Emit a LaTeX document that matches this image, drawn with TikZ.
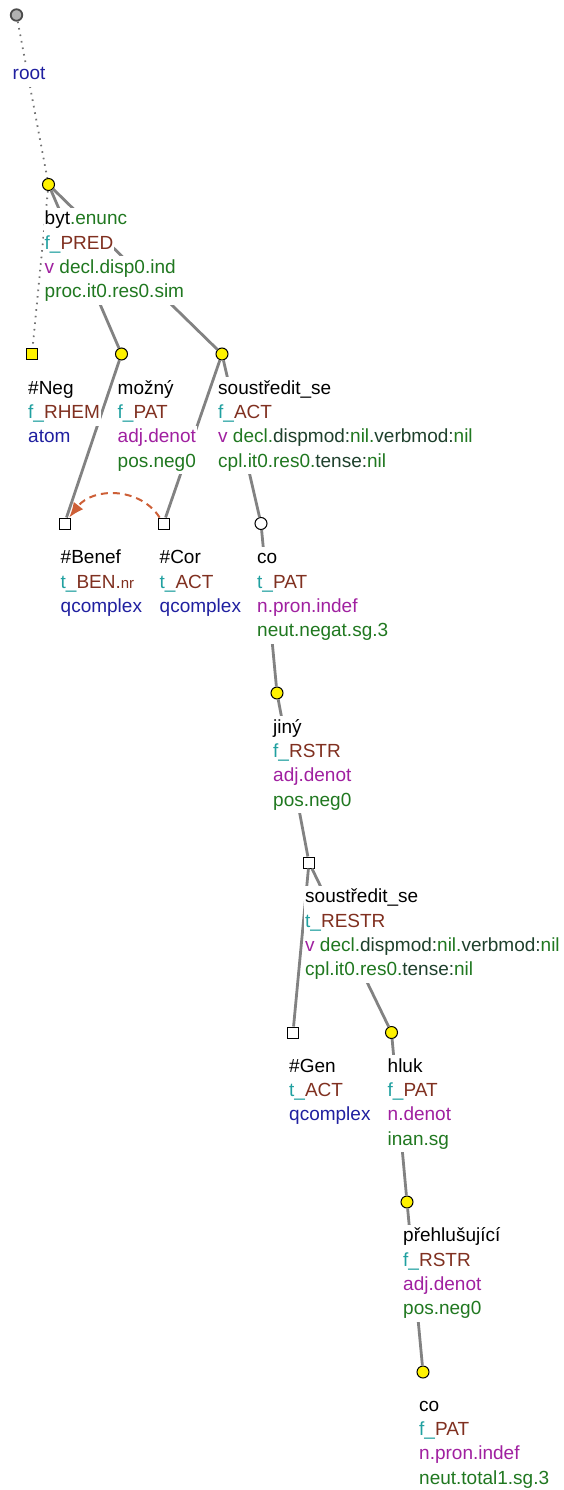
\documentclass[tikz,border=0pt]{standalone}
\usepackage{fontspec}
\setmainfont{Liberation Sans}
\usepackage{xcolor}
\usepackage{tikz}
\usetikzlibrary{arrows.meta}

\definecolor{tteal}{RGB}{32,160,160}
\definecolor{tbrown}{RGB}{128,48,32}
\definecolor{tblue}{RGB}{32,32,160}
\definecolor{tpurple}{RGB}{160,32,160}
\definecolor{tgreen}{RGB}{32,120,32}
\definecolor{tdark}{RGB}{30,64,44}
\definecolor{edgegray}{RGB}{130,130,130}
\definecolor{corefred}{RGB}{205,95,55}

% one line of a node label, on white
\newcommand{\wline}[1]{{\fboxsep=0pt\colorbox{white}{\strut\hspace{1pt}#1\hspace{1pt}}}}
\newcommand{\functor}[2]{\textcolor{tteal}{#1\_}\textcolor{tbrown}{#2}}
\newcommand{\tgr}[1]{\textcolor{tgreen}{#1}}
\newcommand{\tpu}[1]{\textcolor{tpurple}{#1}}
\newcommand{\tbl}[1]{\textcolor{tblue}{#1}}
\newcommand{\tdk}[1]{\textcolor{tdark}{#1}}

\begin{document}
\begin{tikzpicture}[x=1pt,y=-1pt,
  mark base/.style={draw=black,line width=1pt,inner sep=0pt,minimum size=12pt},
  yel/.style={mark base,circle,fill=yellow},
  yelsq/.style={mark base,rectangle,fill=yellow,minimum size=11pt},
  wcirc/.style={mark base,circle,fill=white},
  wsq/.style={mark base,rectangle,fill=white,minimum size=11pt},
  rt/.style={circle,draw=black!70,line width=1.8pt,fill=black!30,inner sep=0pt,minimum size=11.5pt},
  lab/.style={anchor=north west,inner sep=0pt,align=left,
              font=\fontsize{19}{24.3}\selectfont},
  edge/.style={edgegray,line width=2.8pt},
  dotedge/.style={black!55,line width=1.8pt,dash pattern=on 1.6pt off 5pt},
  coref/.style={corefred,line width=2pt,dash pattern=on 7pt off 5pt,
                -{Latex[length=15pt,width=12pt]}}]
  \useasboundingbox (0,0) rectangle (563,1490);

  % node markers
  \node[rt]    (root)   at (16.5,15)    {};
  \node[yel]   (byt)    at (48.5,184.5) {};
  \node[yelsq] (neg)    at (32,354)     {};
  \node[yel]   (mozny)  at (121.5,354)  {};
  \node[yel]   (sous)   at (222,354)    {};
  \node[wsq]   (benef)  at (64.5,523.5) {};
  \node[wsq]   (cor)    at (163.5,523.5){};
  \node[wcirc] (co)     at (261,523.5)  {};
  \node[yel]   (jiny)   at (277,693)    {};
  \node[wsq]   (sousb)  at (309,862.5)  {};
  \node[wsq]   (gen)    at (293,1032.5) {};
  \node[yel]   (hluk)   at (391.5,1032.5){};
  \node[yel]   (prehl)  at (407,1202)   {};
  \node[yel]   (cob)    at (423,1372)   {};

  % edges
  \draw[dotedge] (root) -- (byt);
  \draw[dotedge] (byt) -- (neg);
  \draw[edge] (byt) -- (mozny);
  \draw[edge] (byt) -- (sous);
  \draw[edge] (mozny) -- (benef);
  \draw[edge] (sous) -- (cor);
  \draw[edge] (sous) -- (co);
  \draw[edge] (co) -- (jiny);
  \draw[edge] (jiny) -- (sousb);
  \draw[edge] (sousb) -- (gen);
  \draw[edge] (sousb) -- (hluk);
  \draw[edge] (hluk) -- (prehl);
  \draw[edge] (prehl) -- (cob);

  % labels
  \node[lab] (root-l) at (11.5,62.5) {\wline{\tbl{root}}};
  \node[lab] (byt-l) at (43.5,207.5) {\wline{byt\tgr{.enunc}}\\
    \wline{\functor{f}{PRED}}\\
    \wline{\tpu{v} \tgr{decl.disp0.ind}}\\
    \wline{\tgr{proc.it0.res0.sim}}};
  \node[lab] (neg-l) at (27,377) {\wline{\#Neg}\\
    \wline{\functor{f}{RHEM}}\\
    \wline{\tbl{atom}}};
  \node[lab] (mozny-l) at (116.5,377) {\wline{možný}\\
    \wline{\functor{f}{PAT}}\\
    \wline{\tpu{adj.denot}}\\
    \wline{\tgr{pos.neg0}}};
  \node[lab] (sous-l) at (217,377) {\wline{soustředit\_se}\\
    \wline{\functor{f}{ACT}}\\
    \wline{\tpu{v} \tgr{decl.}\tdk{dispmod:}\tgr{nil.}\tdk{verbmod:}\tgr{nil}}\\
    \wline{\tgr{cpl.it0.res0.}\tdk{tense:}\tgr{nil}}};
  \node[lab] (benef-l) at (59.5,546.5) {\wline{\#Benef}\\
    \wline{\functor{t}{BEN}\textcolor{tbrown}{.{\fontsize{15}{16}\selectfont nr}}}\\
    \wline{\tbl{qcomplex}}};
  \node[lab] (cor-l) at (158.5,546.5) {\wline{\#Cor}\\
    \wline{\functor{t}{ACT}}\\
    \wline{\tbl{qcomplex}}};
  \node[lab] (co-l) at (256,546.5) {\wline{co}\\
    \wline{\functor{t}{PAT}}\\
    \wline{\tpu{n.pron.indef}}\\
    \wline{\tgr{neut.negat.sg.3}}};
  \node[lab] (jiny-l) at (272,716) {\wline{jiný}\\
    \wline{\functor{f}{RSTR}}\\
    \wline{\tpu{adj.denot}}\\
    \wline{\tgr{pos.neg0}}};
  \node[lab] (sousb-l) at (304,885.5) {\wline{soustředit\_se}\\
    \wline{\functor{t}{RESTR}}\\
    \wline{\tpu{v} \tgr{decl.}\tdk{dispmod:}\tgr{nil.}\tdk{verbmod:}\tgr{nil}}\\
    \wline{\tgr{cpl.it0.res0.}\tdk{tense:}\tgr{nil}}};
  \node[lab] (gen-l) at (288,1055) {\wline{\#Gen}\\
    \wline{\functor{t}{ACT}}\\
    \wline{\tbl{qcomplex}}};
  \node[lab] (hluk-l) at (386.5,1055) {\wline{hluk}\\
    \wline{\functor{f}{PAT}}\\
    \wline{\tpu{n.denot}}\\
    \wline{\tgr{inan.sg}}};
  \node[lab] (prehl-l) at (402,1224.5) {\wline{přehlušující}\\
    \wline{\functor{f}{RSTR}}\\
    \wline{\tpu{adj.denot}}\\
    \wline{\tgr{pos.neg0}}};
  \node[lab] (cob-l) at (418,1394) {\wline{co}\\
    \wline{\functor{f}{PAT}}\\
    \wline{\tpu{n.pron.indef}}\\
    \wline{\tgr{neut.total1.sg.3}}};

  % coreference
  \draw[coref] (cor) .. controls (140,487) and (93,487) .. (benef);
\end{tikzpicture}
\end{document}
